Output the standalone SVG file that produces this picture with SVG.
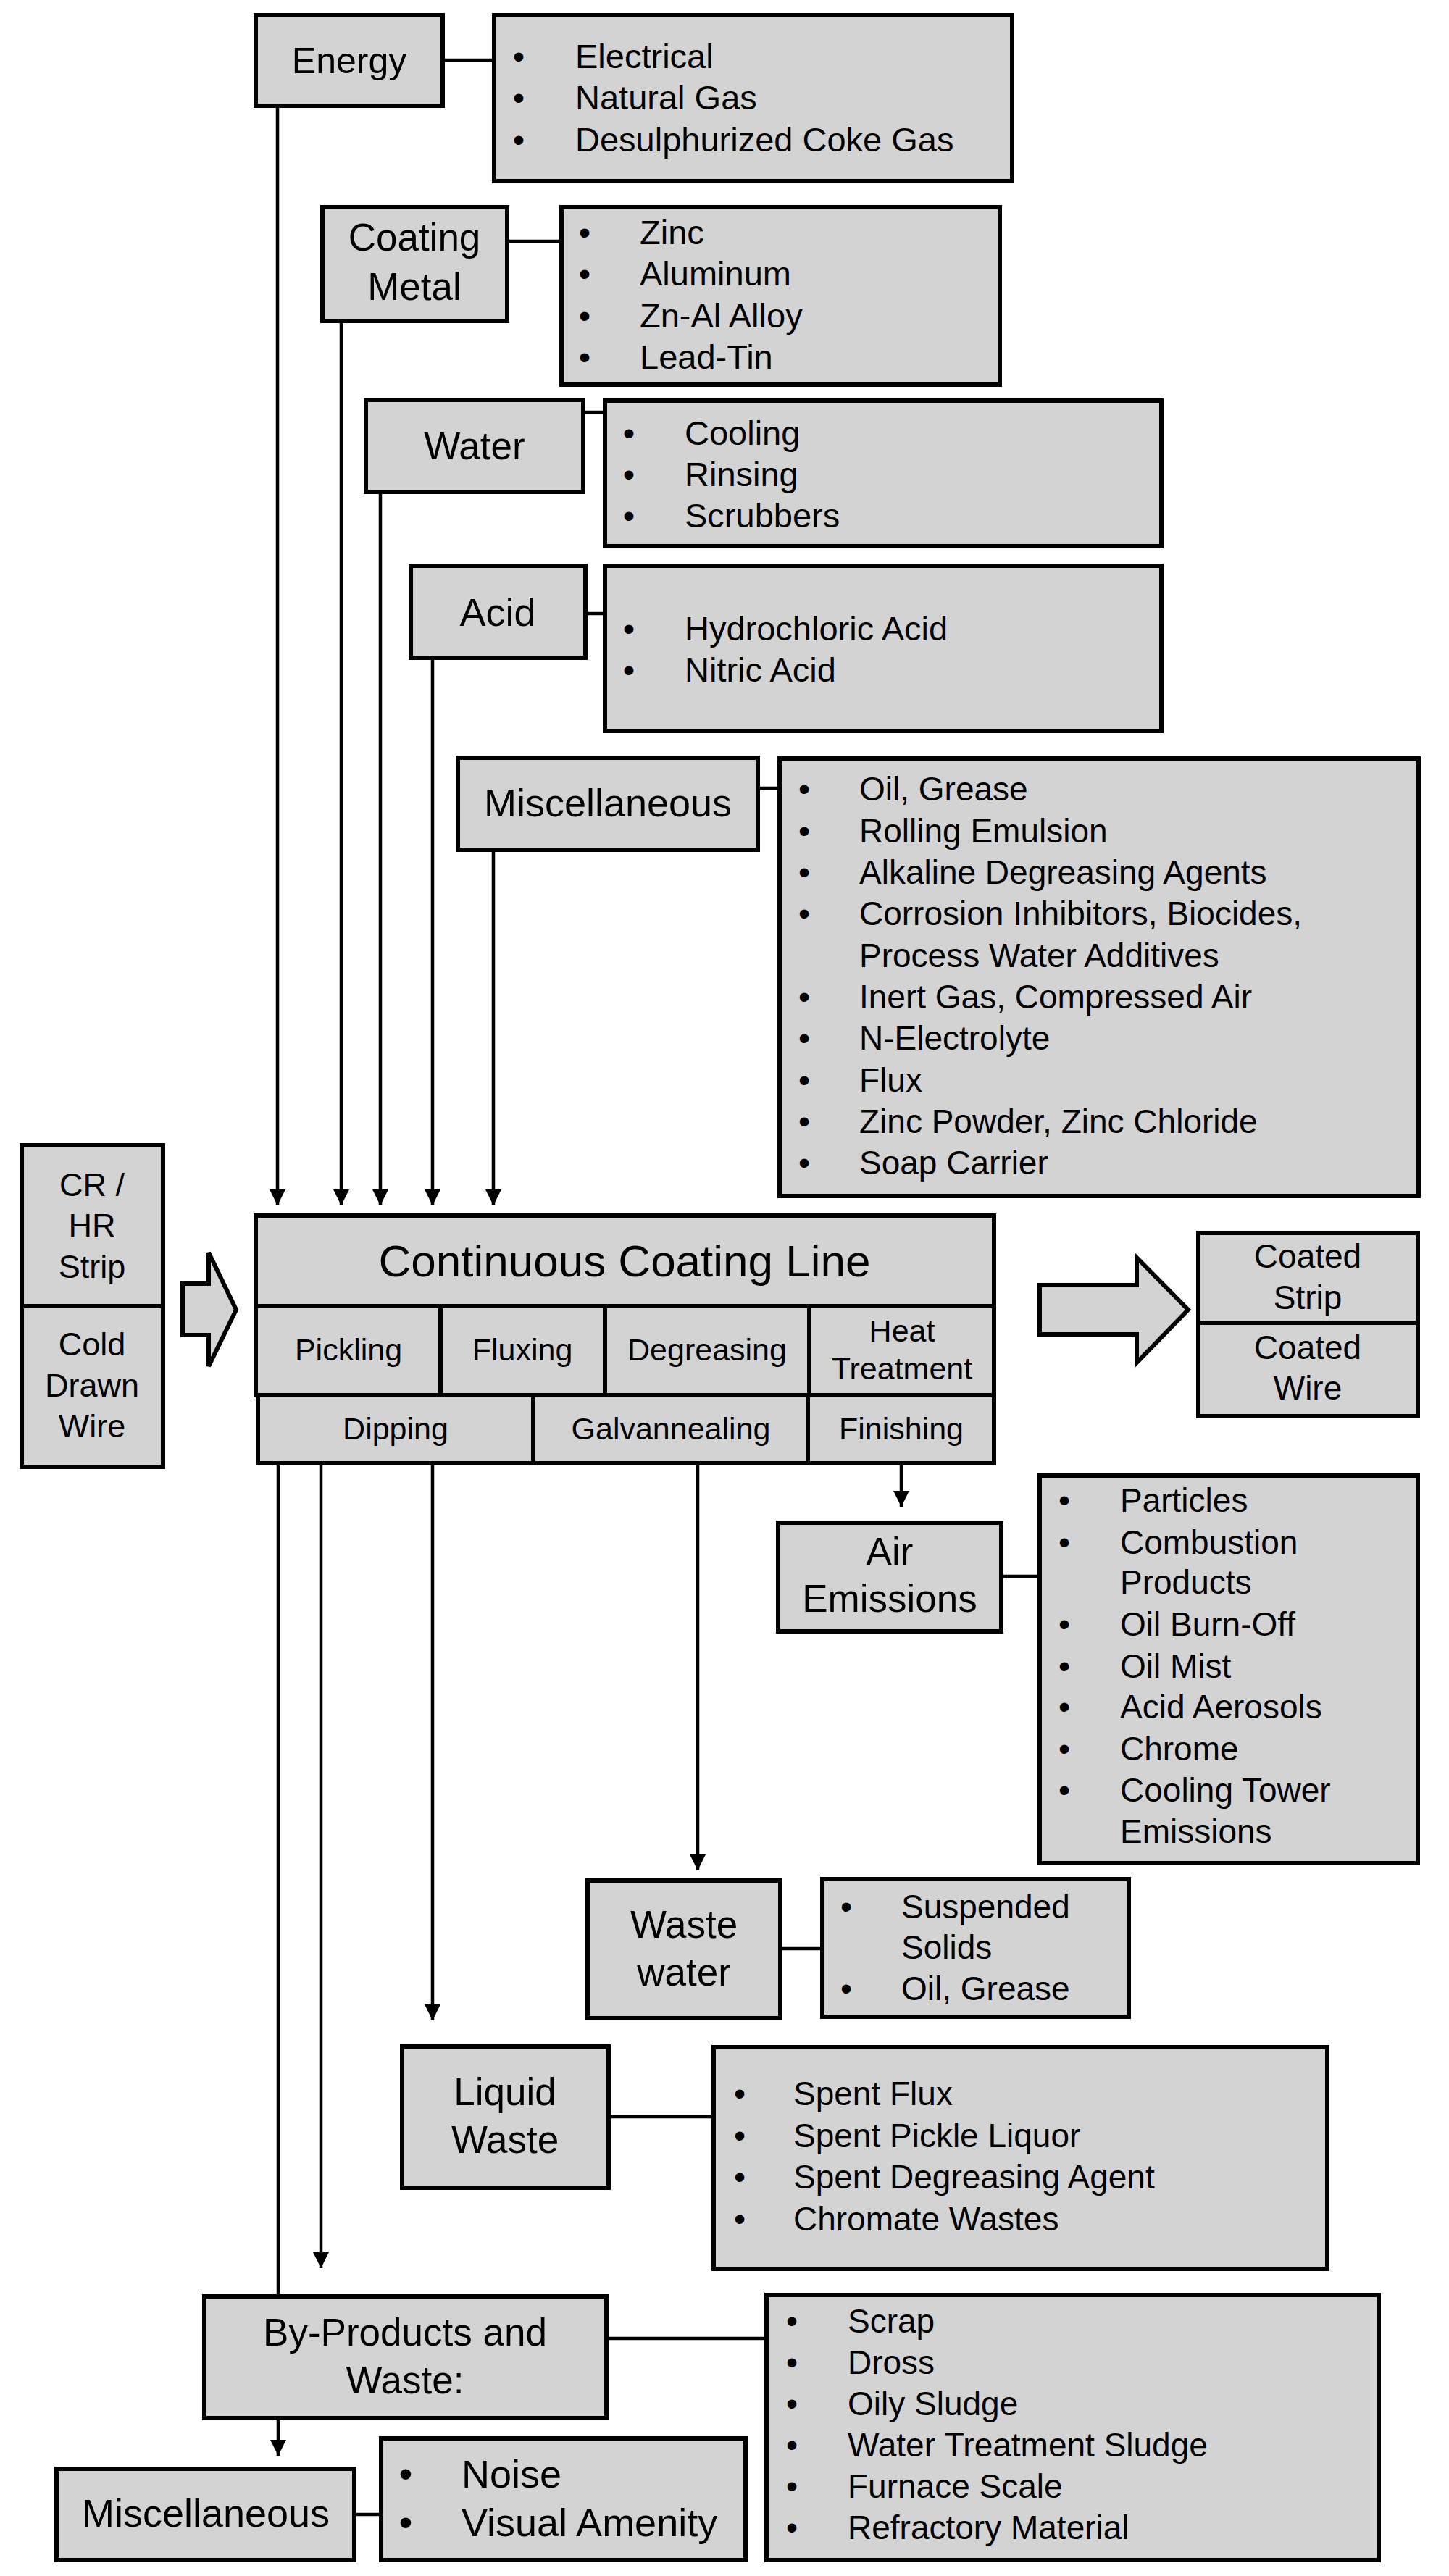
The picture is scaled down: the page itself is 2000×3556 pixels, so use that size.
<svg xmlns="http://www.w3.org/2000/svg" width="2000" height="3556" viewBox="0 0 2000 3556">
<defs>
<style>
.box{fill:#d3d3d3;stroke:#000;stroke-width:6}
.ln{stroke:#000;stroke-width:4.5;fill:none}
text{font-family:"Liberation Sans",Arial,sans-serif;fill:#000}
.c{text-anchor:middle}
.b{text-anchor:middle}
.l46{font-size:46px}
.l47{font-size:47px}
.lab{font-size:53px}
.sub{font-size:43px}
.sm{font-size:45px}
</style>
<marker id="ah" markerUnits="userSpaceOnUse" markerWidth="22" markerHeight="22" viewBox="0 0 22 22" refX="22" refY="11" orient="auto">
<path d="M0,0 L22,11 L0,22 z" fill="#000"/>
</marker>
</defs>
<rect width="2000" height="3556" fill="#fff"/>

<g id="connectors">
<line class="ln" x1="383" y1="146" x2="383" y2="1664" marker-end="url(#ah)"/>
<line class="ln" x1="471" y1="443" x2="471" y2="1664" marker-end="url(#ah)"/>
<line class="ln" x1="525" y1="679" x2="525" y2="1664" marker-end="url(#ah)"/>
<line class="ln" x1="597" y1="908" x2="597" y2="1664" marker-end="url(#ah)"/>
<line class="ln" x1="681" y1="1173" x2="681" y2="1664" marker-end="url(#ah)"/>
<line class="ln" x1="1244" y1="2020" x2="1244" y2="2080" marker-end="url(#ah)"/>
<line class="ln" x1="963" y1="2020" x2="963" y2="2582" marker-end="url(#ah)"/>
<line class="ln" x1="597" y1="2020" x2="597" y2="2789" marker-end="url(#ah)"/>
<line class="ln" x1="443" y1="2020" x2="443" y2="3131" marker-end="url(#ah)"/>
<line class="ln" x1="384" y1="2020" x2="384" y2="3170"/>
<line class="ln" x1="384" y1="3338" x2="384" y2="3390" marker-end="url(#ah)"/>
<line class="ln" x1="611" y1="83" x2="682" y2="83"/>
<line class="ln" x1="700" y1="333" x2="775" y2="333"/>
<line class="ln" x1="805" y1="569" x2="835" y2="569"/>
<line class="ln" x1="808" y1="847" x2="835" y2="847"/>
<line class="ln" x1="1046" y1="1088" x2="1076" y2="1088"/>
<line class="ln" x1="1382" y1="2176" x2="1435" y2="2176"/>
<line class="ln" x1="1077" y1="2690" x2="1135" y2="2690"/>
<line class="ln" x1="840" y1="2922" x2="985" y2="2922"/>
<line class="ln" x1="837" y1="3228" x2="1058" y2="3228"/>
<line class="ln" x1="489" y1="3471" x2="526" y2="3471"/>
</g>

<g id="energy">
<rect class="box" x="353" y="21" width="258" height="125"/>
<text class="c" x="482" y="101" style="font-size:50px">Energy</text>
</g>
<g id="energy-list" class="l47">
<rect class="box" x="682" y="21" width="715" height="229"/>
<text class="b" x="716" y="94">•</text><text x="794" y="94">Electrical</text>
<text class="b" x="716" y="151">•</text><text x="794" y="151">Natural Gas</text>
<text class="b" x="716" y="209">•</text><text x="794" y="209">Desulphurized Coke Gas</text>
</g>

<g id="coating-metal">
<rect class="box" x="445" y="286" width="255" height="157"/>
<text class="c lab" x="572" y="346">Coating</text>
<text class="c lab" x="572" y="414">Metal</text>
</g>
<g id="coating-list" class="l47">
<rect class="box" x="775" y="286" width="605" height="245"/>
<text class="b" x="807" y="337">•</text><text x="883" y="337">Zinc</text>
<text class="b" x="807" y="394">•</text><text x="883" y="394">Aluminum</text>
<text class="b" x="807" y="452">•</text><text x="883" y="452">Zn-Al Alloy</text>
<text class="b" x="807" y="509">•</text><text x="883" y="509">Lead-Tin</text>
</g>

<g id="water">
<rect class="box" x="505" y="552" width="300" height="127"/>
<text class="c lab" x="655" y="634">Water</text>
</g>
<g id="water-list" class="l47">
<rect class="box" x="835" y="553" width="768" height="201"/>
<text class="b" x="868" y="614">•</text><text x="945" y="614">Cooling</text>
<text class="b" x="868" y="671">•</text><text x="945" y="671">Rinsing</text>
<text class="b" x="868" y="728">•</text><text x="945" y="728">Scrubbers</text>
</g>

<g id="acid">
<rect class="box" x="567" y="781" width="241" height="127"/>
<text class="c" x="687" y="864" style="font-size:54px">Acid</text>
</g>
<g id="acid-list" class="l47">
<rect class="box" x="835" y="781" width="768" height="228"/>
<text class="b" x="868" y="884">•</text><text x="945" y="884">Hydrochloric Acid</text>
<text class="b" x="868" y="941">•</text><text x="945" y="941">Nitric Acid</text>
</g>

<g id="misc-in">
<rect class="box" x="632" y="1046" width="414" height="127"/>
<text class="c" x="839" y="1127" style="font-size:54px">Miscellaneous</text>
</g>
<g id="misc-in-list" class="l46">
<rect class="box" x="1076" y="1047" width="882" height="604"/>
<text class="b" x="1110" y="1105">•</text><text x="1186" y="1105">Oil, Grease</text>
<text class="b" x="1110" y="1163">•</text><text x="1186" y="1163">Rolling Emulsion</text>
<text class="b" x="1110" y="1220">•</text><text x="1186" y="1220">Alkaline Degreasing Agents</text>
<text class="b" x="1110" y="1277">•</text><text x="1186" y="1277">Corrosion Inhibitors, Biocides,</text>
<text x="1186" y="1335">Process Water Additives</text>
<text class="b" x="1110" y="1392">•</text><text x="1186" y="1392">Inert Gas, Compressed Air</text>
<text class="b" x="1110" y="1449">•</text><text x="1186" y="1449">N-Electrolyte</text>
<text class="b" x="1110" y="1507">•</text><text x="1186" y="1507">Flux</text>
<text class="b" x="1110" y="1564">•</text><text x="1186" y="1564">Zinc Powder, Zinc Chloride</text>
<text class="b" x="1110" y="1621">•</text><text x="1186" y="1621">Soap Carrier</text>
</g>

<g id="input" class="sm">
<rect class="box" x="30" y="1581" width="195" height="222"/>
<rect class="box" x="30" y="1803" width="195" height="222"/>
<text class="c" x="127" y="1651">CR /</text>
<text class="c" x="127" y="1707">HR</text>
<text class="c" x="127" y="1764">Strip</text>
<text class="c" x="127" y="1871">Cold</text>
<text class="c" x="127" y="1928">Drawn</text>
<text class="c" x="127" y="1984">Wire</text>
</g>

<g id="arrow-in">
<polygon class="box" points="252,1772 288,1772 288,1729 326,1808 288,1886 288,1843 252,1843"/>
</g>

<g id="ccl">
<rect class="box" x="353" y="1678" width="1019" height="125"/>
<text class="c" x="862" y="1762" style="font-size:62px">Continuous Coating Line</text>
<rect class="box" x="353" y="1803" width="255" height="123"/>
<rect class="box" x="608" y="1803" width="227" height="123"/>
<rect class="box" x="835" y="1803" width="282" height="123"/>
<rect class="box" x="1117" y="1803" width="255" height="123"/>
<rect class="box" x="356" y="1926" width="380" height="94"/>
<rect class="box" x="736" y="1926" width="379" height="94"/>
<rect class="box" x="1115" y="1926" width="257" height="94"/>
<g class="sub">
<text class="c" x="481" y="1878">Pickling</text>
<text class="c" x="721" y="1878">Fluxing</text>
<text class="c" x="976" y="1878">Degreasing</text>
<text class="c" x="1245" y="1852">Heat</text>
<text class="c" x="1245" y="1904">Treatment</text>
<text class="c" x="546" y="1987">Dipping</text>
<text class="c" x="926" y="1987">Galvannealing</text>
<text class="c" x="1244" y="1987">Finishing</text>
</g>
</g>

<g id="arrow-out">
<polygon class="box" points="1435,1774 1569,1774 1569,1736 1640,1808 1569,1881 1569,1842 1435,1842"/>
</g>

<g id="output" class="l46">
<rect class="box" x="1654" y="1702" width="303" height="124"/>
<rect class="box" x="1654" y="1826" width="303" height="129"/>
<text class="c" x="1805" y="1750">Coated</text>
<text class="c" x="1805" y="1807">Strip</text>
<text class="c" x="1805" y="1876">Coated</text>
<text class="c" x="1805" y="1932">Wire</text>
</g>

<g id="air">
<rect class="box" x="1074" y="2102" width="308" height="150"/>
<text class="c lab" x="1228" y="2160">Air</text>
<text class="c lab" x="1228" y="2225">Emissions</text>
</g>
<g id="air-list" class="l46">
<rect class="box" x="1435" y="2037" width="522" height="535"/>
<text class="b" x="1469" y="2087">•</text><text x="1546" y="2087">Particles</text>
<text class="b" x="1469" y="2145">•</text><text x="1546" y="2145">Combustion</text>
<text x="1546" y="2200">Products</text>
<text class="b" x="1469" y="2258">•</text><text x="1546" y="2258">Oil Burn-Off</text>
<text class="b" x="1469" y="2316">•</text><text x="1546" y="2316">Oil Mist</text>
<text class="b" x="1469" y="2372">•</text><text x="1546" y="2372">Acid Aerosols</text>
<text class="b" x="1469" y="2430">•</text><text x="1546" y="2430">Chrome</text>
<text class="b" x="1469" y="2487">•</text><text x="1546" y="2487">Cooling Tower</text>
<text x="1546" y="2544">Emissions</text>
</g>

<g id="wastewater">
<rect class="box" x="811" y="2596" width="266" height="190"/>
<text class="c lab" x="944" y="2675">Waste</text>
<text class="c lab" x="944" y="2741">water</text>
</g>
<g id="wastewater-list" class="l46">
<rect class="box" x="1135" y="2594" width="423" height="190"/>
<text class="b" x="1168" y="2648">•</text><text x="1244" y="2648">Suspended</text>
<text x="1244" y="2704">Solids</text>
<text class="b" x="1168" y="2761">•</text><text x="1244" y="2761">Oil, Grease</text>
</g>

<g id="liquid">
<rect class="box" x="555" y="2825" width="285" height="195"/>
<text class="c lab" x="697" y="2906">Liquid</text>
<text class="c lab" x="697" y="2972">Waste</text>
</g>
<g id="liquid-list" class="l46">
<rect class="box" x="985" y="2826" width="847" height="306"/>
<text class="b" x="1021" y="2906">•</text><text x="1095" y="2906">Spent Flux</text>
<text class="b" x="1021" y="2964">•</text><text x="1095" y="2964">Spent Pickle Liquor</text>
<text class="b" x="1021" y="3021">•</text><text x="1095" y="3021">Spent Degreasing Agent</text>
<text class="b" x="1021" y="3079">•</text><text x="1095" y="3079">Chromate Wastes</text>
</g>

<g id="byproducts">
<rect class="box" x="282" y="3170" width="555" height="168"/>
<text class="c lab" x="559" y="3238">By-Products and</text>
<text class="c lab" x="559" y="3304">Waste:</text>
</g>
<g id="byproducts-list" class="l46">
<rect class="box" x="1058" y="3168" width="845" height="366"/>
<text class="b" x="1093" y="3220">•</text><text x="1170" y="3220">Scrap</text>
<text class="b" x="1093" y="3277">•</text><text x="1170" y="3277">Dross</text>
<text class="b" x="1093" y="3334">•</text><text x="1170" y="3334">Oily Sludge</text>
<text class="b" x="1093" y="3391">•</text><text x="1170" y="3391">Water Treatment Sludge</text>
<text class="b" x="1093" y="3448">•</text><text x="1170" y="3448">Furnace Scale</text>
<text class="b" x="1093" y="3505">•</text><text x="1170" y="3505">Refractory Material</text>
</g>

<g id="misc-out">
<rect class="box" x="78" y="3408" width="411" height="126"/>
<text class="c" x="284" y="3488" style="font-size:54px">Miscellaneous</text>
</g>
<g id="misc-out-list" style="font-size:54px">
<rect class="box" x="526" y="3366" width="503" height="168"/>
<text class="b" x="560" y="3434">•</text><text x="637" y="3434">Noise</text>
<text class="b" x="560" y="3501">•</text><text x="637" y="3501">Visual Amenity</text>
</g>
</svg>
